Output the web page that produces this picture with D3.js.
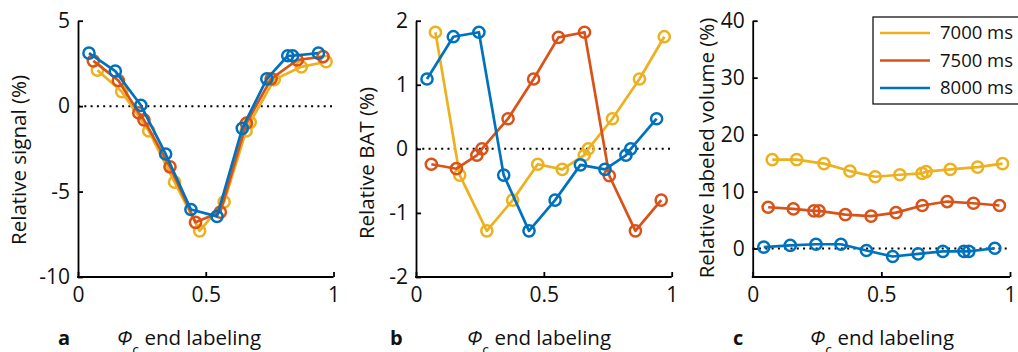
<!DOCTYPE html>
<html>
<head>
<meta charset="utf-8">
<script src="https://cdn.jsdelivr.net/npm/d3@7"></script>
<style>
  body { margin: 0; background: #fff; }
  svg { display: block; font-family: "Open Sans", sans-serif; }
</style>
</head>
<body>
<svg id="chart" width="1018" height="352"></svg>
<script>
// series (legend order, drawn in this order so blue ends on top)
var seriesNames = ['7000 ms', '7500 ms', '8000 ms'];
var seriesColors = ['#EDB120', '#D95319', '#0072BD'];

// phi_c end labeling positions of each series
var phi7000 = [0.076, 0.171, 0.277, 0.378, 0.476, 0.572, 0.658, 0.674, 0.768, 0.874, 0.971];
var phi7500 = [0.060, 0.158, 0.238, 0.258, 0.360, 0.460, 0.557, 0.659, 0.756, 0.858, 0.959];
var phi8000 = [0.043, 0.146, 0.246, 0.343, 0.442, 0.544, 0.643, 0.739, 0.821, 0.840, 0.941];

// panel a: relative signal (%)
var signal7000 = [2.1, 0.85, -1.45, -4.45, -7.3, -5.6, -1.45, -0.95, 1.55, 2.3, 2.6];
var signal7500 = [2.65, 1.5, -0.4, -0.8, -3.55, -6.8, -6.2, -1.0, 1.6, 2.7, 2.9];
var signal8000 = [3.1, 2.05, 0.05, -2.8, -6.05, -6.45, -1.3, 1.6, 2.95, 2.95, 3.1];

// panel b: relative BAT (%)
var bat7000 = [1.82, -0.41, -1.28, -0.80, -0.24, -0.32, -0.10, 0.0, 0.47, 1.09, 1.75];
var bat7500 = [-0.24, -0.31, -0.10, 0.0, 0.47, 1.09, 1.74, 1.82, -0.42, -1.28, -0.80];
var bat8000 = [1.09, 1.75, 1.82, -0.41, -1.28, -0.80, -0.25, -0.32, -0.10, 0.0, 0.47];

// panel c: relative labeled volume (%)
var volume7000 = [15.6, 15.6, 14.9, 13.6, 12.6, 12.95, 13.2, 13.5, 13.9, 14.3, 14.9];
var volume7500 = [7.25, 6.95, 6.6, 6.6, 5.95, 5.7, 6.3, 7.55, 8.25, 7.95, 7.55];
var volume8000 = [0.25, 0.55, 0.75, 0.75, -0.35, -1.4, -0.95, -0.5, -0.5, -0.5, 0.05];

var xTicks = [0, 0.5, 1];
var ticksA = [-10, -5, 0, 5];
var ticksB = [-2, -1, 0, 1, 2];
var ticksC = [0, 10, 20, 30, 40];

var panels = [
  { letter: 'a', ylabel: 'Relative signal (%)', domain: [-10, 5], ticks: ticksA,
    values: [signal7000, signal7500, signal8000],
    left: 78, right: 333.5, labelX: 26, labelY: 160, letterX: 58, titleX: 117 },
  { letter: 'b', ylabel: 'Relative BAT (%)', domain: [-2, 2], ticks: ticksB,
    values: [bat7000, bat7500, bat8000],
    left: 416, right: 671.7, labelX: 374, labelY: 163, letterX: 390, titleX: 467 },
  { letter: 'c', ylabel: 'Relative labeled volume (%)', domain: [-5, 40], ticks: ticksC,
    values: [volume7000, volume7500, volume8000],
    left: 752.7, right: 1010, labelX: 714, labelY: 148, letterX: 733, titleX: 810 }
];
var phis = [phi7000, phi7500, phi8000];

var plotTop = 20.7, plotBottom = 277;
var svg = d3.select('#chart');

var drawPanel = function (p) {
  var xScale = d3.scaleLinear().domain([0, 1]).range([p.left, p.right]);
  var yScale = d3.scaleLinear().domain(p.domain).range([plotBottom, plotTop]);
  var g = svg.append('g');

  // zero line
  g.append('line')
      .attr('x1', xScale(0)).attr('x2', xScale(1))
      .attr('y1', yScale(0)).attr('y2', yScale(0))
      .attr('stroke', '#000')
      .attr('stroke-width', 2)
      .attr('stroke-dasharray', '2,4.3');

  var line = d3.line()
      .x(function (d) { return xScale(d[0]); })
      .y(function (d) { return yScale(d[1]); });

  p.values.forEach(function (vals, i) {
    var pts = vals.map(function (v, j) { return [phis[i][j], v]; });
    var s = g.append('g');
    s.append('path')
        .datum(pts)
        .attr('d', line)
        .attr('fill', 'none')
        .attr('stroke', seriesColors[i])
        .attr('stroke-width', 2.7)
        .attr('stroke-linejoin', 'round');
    s.selectAll('circle').data(pts).enter().append('circle')
        .attr('cx', function (d) { return xScale(d[0]); })
        .attr('cy', function (d) { return yScale(d[1]); })
        .attr('r', 5.6)
        .attr('fill', 'none')
        .attr('stroke', seriesColors[i])
        .attr('stroke-width', 2.5);
  });

  var fmt = function (d) { return String(d); };
  var xAxis = d3.axisBottom(xScale).tickValues(xTicks).tickFormat(fmt)
      .tickSizeInner(-5).tickSizeOuter(0).tickPadding(10);
  var yAxis = d3.axisLeft(yScale).tickValues(p.ticks).tickFormat(fmt)
      .tickSizeInner(-5).tickSizeOuter(0).tickPadding(8);

  var gx = g.append('g').attr('transform', 'translate(0,' + plotBottom + ')').call(xAxis);
  var gy = g.append('g').attr('transform', 'translate(' + p.left + ',0)').call(yAxis);
  [gx, gy].forEach(function (ax) {
    ax.selectAll('path, line').attr('stroke', '#000').attr('stroke-width', 1.8);
    ax.selectAll('text').attr('fill', '#111').style('font-size', '21px');
    ax.attr('font-family', null);
  });
  gx.select('.domain').attr('d', 'M' + (p.left - 0.9) + ',0H' + p.right);

  g.append('text')
      .attr('transform', 'translate(' + p.labelX + ',' + p.labelY + ') rotate(-90)')
      .attr('text-anchor', 'middle')
      .style('font-size', '20.5px')
      .attr('fill', '#111')
      .text(p.ylabel);

  g.append('text')
      .attr('x', p.letterX).attr('y', 345)
      .style('font-size', '20px')
      .style('font-weight', 'bold')
      .attr('fill', '#111')
      .text(p.letter);

  var title = g.append('text')
      .attr('x', p.titleX).attr('y', 345)
      .style('font-size', '20.5px')
      .attr('fill', '#111');
  title.append('tspan').style('font-style', 'italic').text('\u03A6');
  title.append('tspan').attr('dy', 10).style('font-size', '14px').text('c');
  title.append('tspan').attr('dy', -10).text(' end labeling');
};

panels.forEach(drawPanel);

// legend
var legend = svg.append('g');
legend.append('rect')
    .attr('x', 873).attr('y', 17)
    .attr('width', 170).attr('height', 87)
    .attr('fill', '#fff')
    .attr('stroke', '#000')
    .attr('stroke-width', 1.2);
seriesNames.forEach(function (name, i) {
  var y = 33 + i * 27.5;
  legend.append('line')
      .attr('x1', 880).attr('x2', 930)
      .attr('y1', y).attr('y2', y)
      .attr('stroke', seriesColors[i])
      .attr('stroke-width', 2.7);
  legend.append('text')
      .attr('x', 940).attr('y', y)
      .attr('dy', '0.35em')
      .style('font-size', '18.5px')
      .attr('fill', '#111')
      .text(name);
});
</script>
</body>
</html>
